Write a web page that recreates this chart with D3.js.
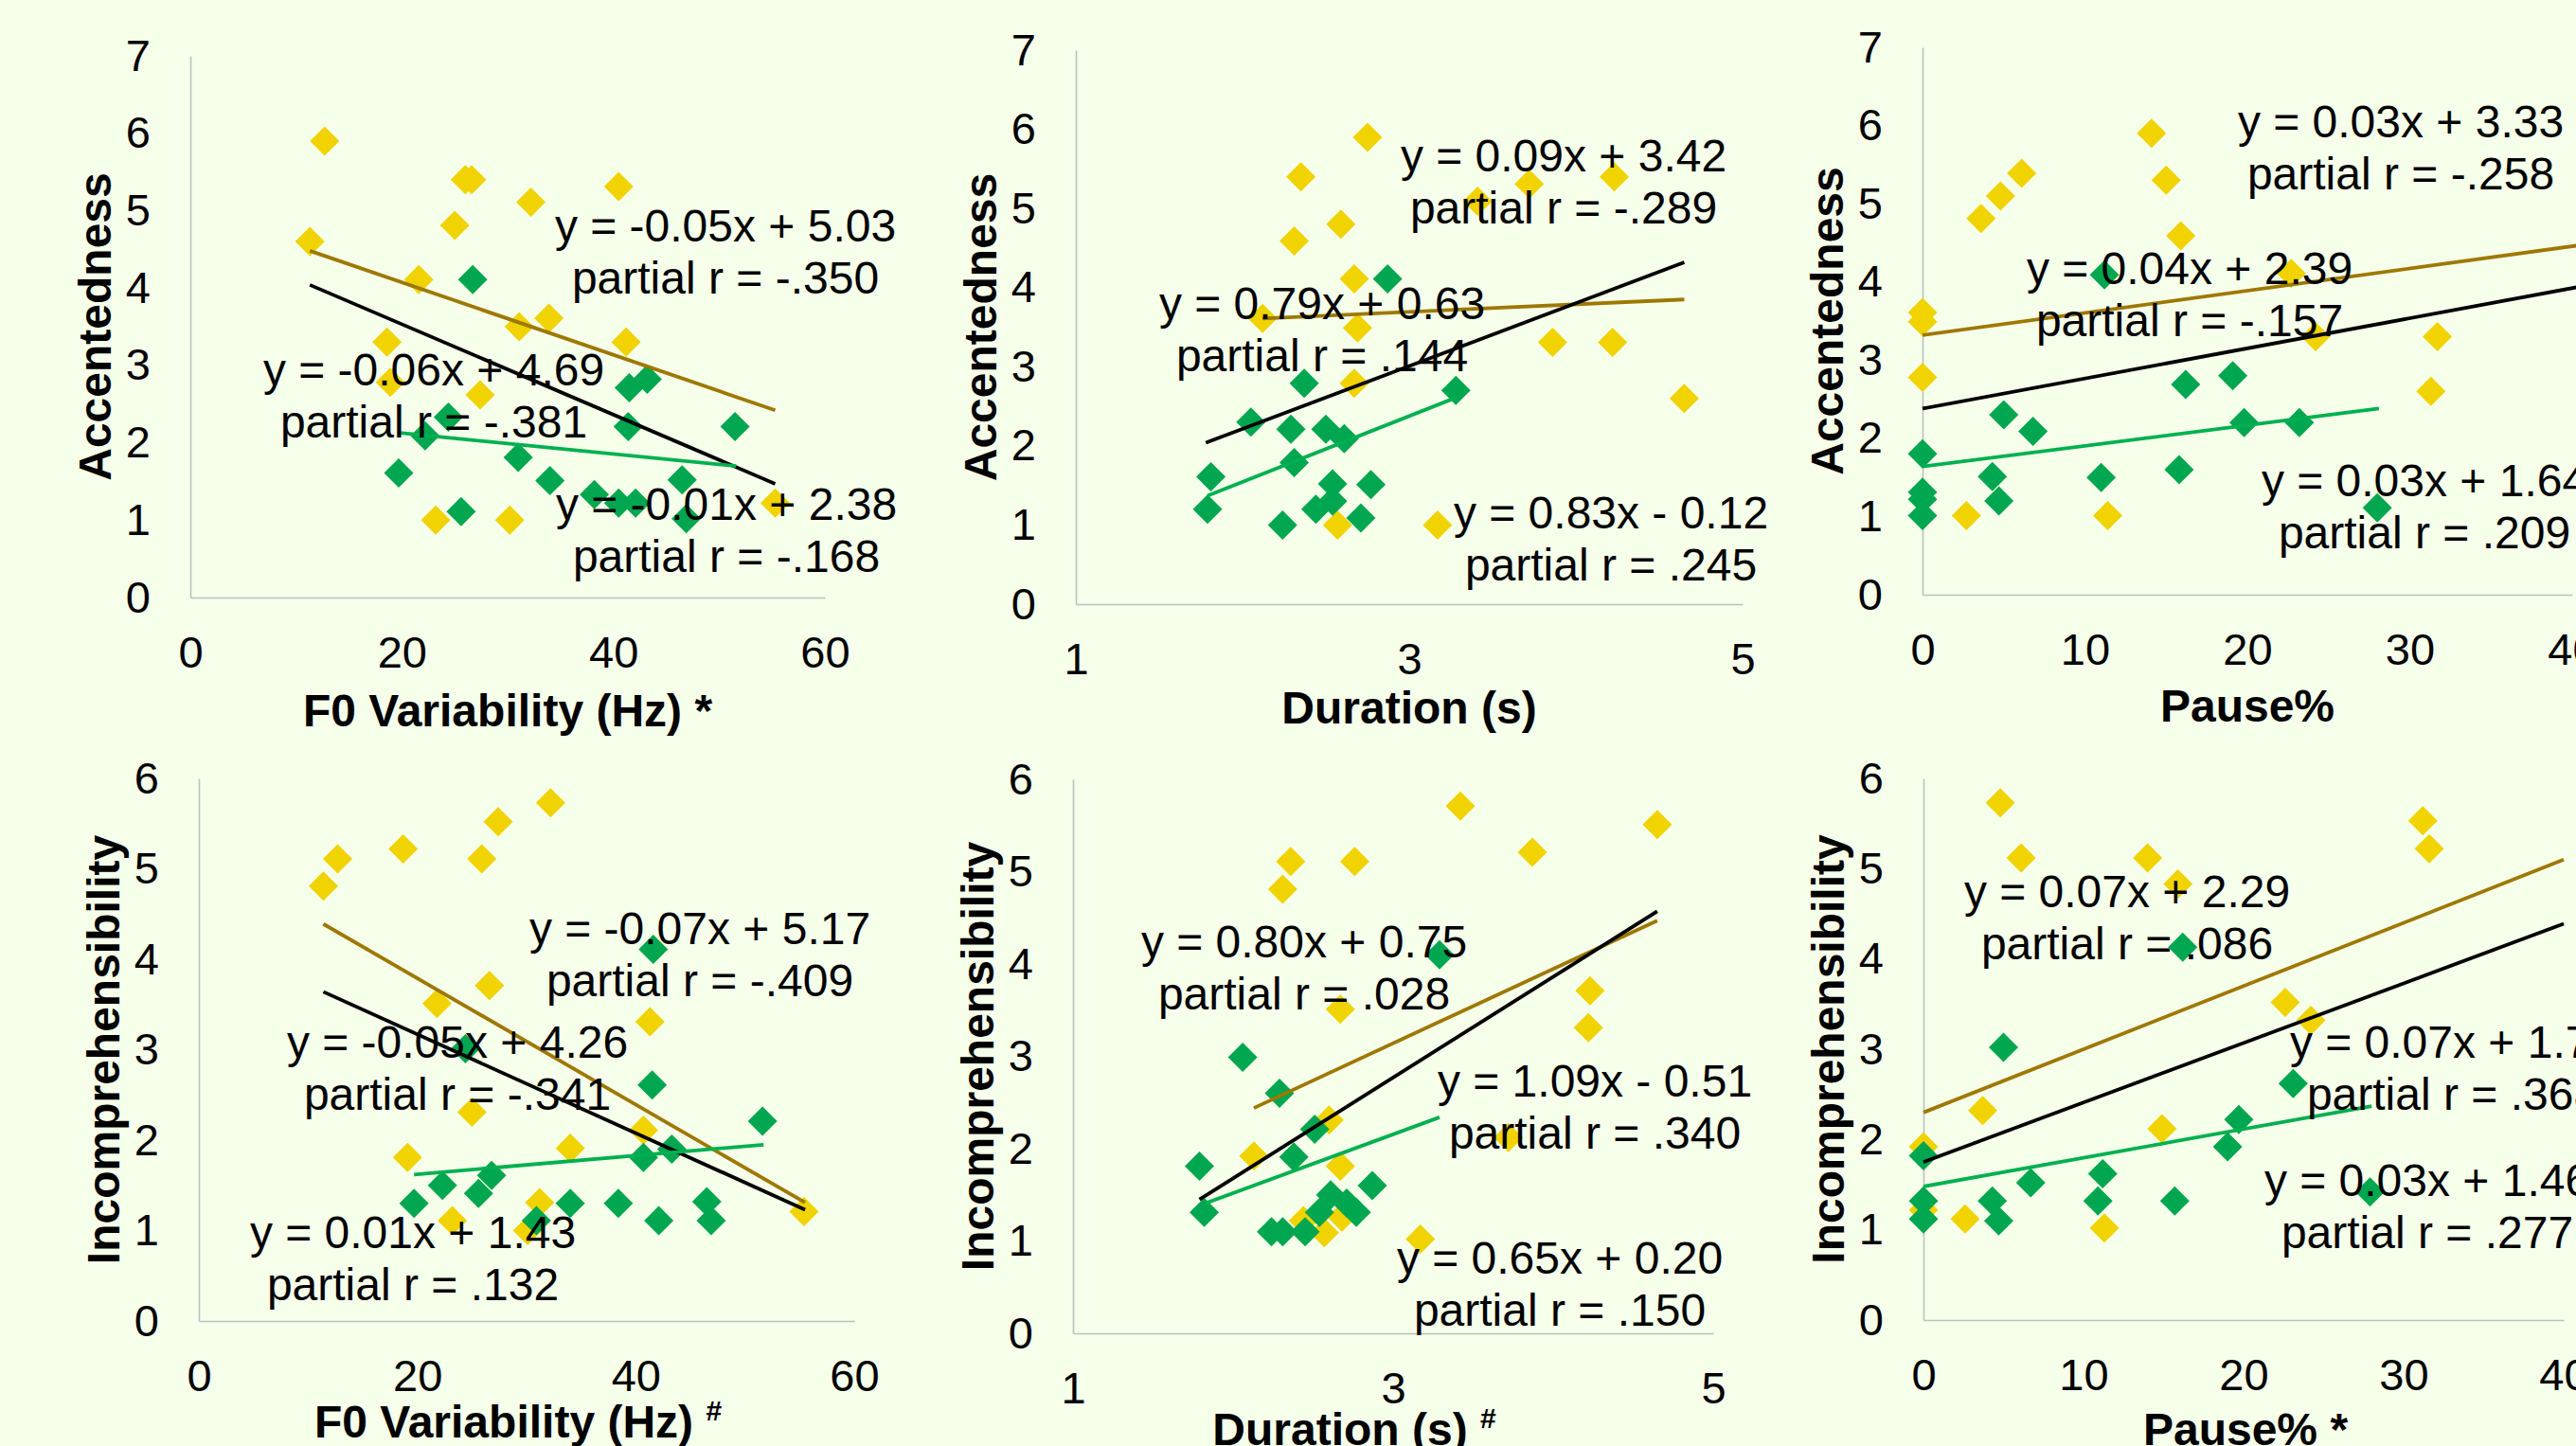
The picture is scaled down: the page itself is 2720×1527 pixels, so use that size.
<!DOCTYPE html>
<html>
<head>
<meta charset="UTF-8">
<title>Accentedness / Incomprehensibility scatter panels</title>
<script src="https://cdn.jsdelivr.net/npm/d3@7"></script>
<style>
	body { margin: 0; background: #F5FFEA; }
	svg text { font-family: "Liberation Sans", Arial, sans-serif; fill: #000; }
</style>
</head>
<body>
<svg id="chart" width="2720" height="1527"></svg>
<script>
// ---- tick labels
var f0Ticks = [0, 20, 40, 60];
var durTicks = [1, 3, 5];
var pauseTicks = [0, 10, 20, 30, 40];
var accTicks = [0, 1, 2, 3, 4, 5, 6, 7];
var incTicks = [0, 1, 2, 3, 4, 5, 6];

// ---- accentedness vs F0 variability
var f0AccYellow = [[12.7,5.90],[26.0,5.40],[26.6,5.40],[40.5,5.31],[32.2,5.11],[25.0,4.81],[11.3,4.60],[21.6,4.11],[33.9,3.61],[31.1,3.50],[18.6,3.30],[41.2,3.30],[18.9,2.78],[27.4,2.62],[23.2,1.00],[30.2,1.00],[55.3,1.22]];
var f0AccGreen = [[26.7,4.11],[41.5,2.71],[43.2,2.82],[24.4,2.33],[22.2,2.09],[41.4,2.21],[51.5,2.21],[31.0,1.81],[19.7,1.61],[34.0,1.51],[46.5,1.52],[38.2,1.33],[40.5,1.22],[42.1,1.22],[25.6,1.11],[46.9,1.02]];
var f0AccTrend = [["yellow",11.3,4.48,55.3,2.42],["all",11.3,4.04,55.3,1.47],["green",19.6,2.13,51.6,1.70]];
var f0AccLabels = [["y = -0.05x + 5.03","partial r = -.350"],["y = -0.06x + 4.69","partial r = -.381"],["y = -0.01x + 2.38","partial r = -.168"]];

// ---- accentedness vs duration
var durAccYellow = [[2.75,5.90],[2.35,5.40],[4.23,5.40],[3.72,5.31],[3.41,5.09],[2.59,4.80],[2.31,4.59],[2.67,4.11],[2.12,3.61],[2.69,3.49],[3.86,3.31],[4.22,3.31],[2.67,2.79],[4.65,2.60],[2.57,1.00],[3.17,1.00]];
var durAccGreen = [[2.87,4.11],[2.37,2.79],[3.28,2.70],[2.05,2.30],[2.29,2.21],[2.50,2.21],[2.61,2.09],[2.31,1.79],[1.81,1.61],[2.54,1.52],[2.77,1.51],[2.54,1.30],[2.44,1.20],[1.79,1.20],[2.71,1.09],[2.24,1.00]];
var durAccTrend = [["yellow",2.12,3.61,4.65,3.85],["all",1.78,2.04,4.65,4.32],["green",1.79,1.37,3.28,2.61]];
var durAccLabels = [["y = 0.09x + 3.42","partial r = -.289"],["y = 0.79x + 0.63","partial r = .144"],["y = 0.83x - 0.12","partial r = .245"]];

// ---- accentedness vs pause%
var pauseAccYellow = [[14.1,5.90],[6.1,5.39],[15.0,5.30],[4.8,5.10],[3.6,4.81],[15.9,4.59],[22.7,4.11],[0,3.61],[0,3.49],[24.2,3.30],[31.7,3.30],[0,2.78],[31.3,2.60],[2.7,1.01],[11.4,1.01]];
var pauseAccGreen = [[11.2,4.09],[19.1,2.80],[16.2,2.69],[5.0,2.30],[6.8,2.09],[19.8,2.20],[23.2,2.20],[0,1.80],[15.8,1.60],[4.3,1.51],[11.0,1.50],[0,1.31],[0,1.22],[4.7,1.20],[0,1.01],[28.0,1.11]];
var pauseAccTrend = [["yellow",0,3.32,40.5,4.47],["all",0,2.38,40.5,3.94],["green",0,1.64,28.1,2.38]];
var pauseAccLabels = [["y = 0.03x + 3.33","partial r = -.258"],["y = 0.04x + 2.39","partial r = -.157"],["y = 0.03x + 1.64","partial r = .209"]];

// ---- incomprehensibility vs F0 variability
var f0IncYellow = [[32.2,5.73],[27.4,5.52],[18.7,5.22],[12.7,5.11],[25.9,5.11],[11.4,4.81],[26.6,3.71],[21.8,3.51],[41.3,3.31],[25.0,2.31],[40.7,2.11],[34.0,1.91],[19.1,1.81],[31.2,1.31],[23.2,1.11],[30.1,1.00],[55.4,1.21]];
var f0IncGreen = [[41.6,4.11],[24.4,3.01],[41.5,2.61],[51.6,2.21],[40.7,1.81],[43.3,1.90],[26.8,1.61],[22.3,1.50],[25.6,1.41],[19.7,1.30],[34.0,1.30],[38.4,1.30],[46.5,1.32],[42.1,1.11],[46.9,1.11],[30.9,1.11]];
var f0IncTrend = [["yellow",11.4,4.39,55.5,1.31],["all",11.4,3.64,55.5,1.23],["green",19.7,1.62,51.7,1.95]];
var f0IncLabels = [["y = -0.07x + 5.17","partial r = -.409"],["y = -0.05x + 4.26","partial r = -.341"],["y = 0.01x + 1.43","partial r = .132"]];

// ---- incomprehensibility vs duration
var durIncYellow = [[3.42,5.71],[4.65,5.51],[3.87,5.21],[2.36,5.11],[2.76,5.11],[2.31,4.81],[4.23,3.71],[4.22,3.31],[2.67,3.51],[2.60,2.31],[3.72,2.12],[2.13,1.92],[2.67,1.81],[2.44,1.22],[2.68,1.26],[2.57,1.09],[3.17,1.02]];
var durIncGreen = [[3.29,4.10],[2.06,2.99],[2.29,2.60],[2.51,2.21],[1.79,1.81],[2.38,1.91],[2.87,1.60],[2.61,1.50],[2.71,1.41],[2.54,1.31],[1.82,1.31],[2.77,1.31],[2.24,1.10],[2.31,1.10],[2.45,1.10]];
var durIncTrend = [["yellow",2.13,2.44,4.65,4.47],["all",1.79,1.45,4.65,4.57],["green",1.83,1.41,3.29,2.34]];
var durIncLabels = [["y = 0.80x + 0.75","partial r = .028"],["y = 1.09x - 0.51","partial r = .340"],["y = 0.65x + 0.20","partial r = .150"]];

// ---- incomprehensibility vs pause%
var pauseIncYellow = [[4.8,5.73],[31.2,5.53],[31.6,5.22],[6.1,5.12],[14.0,5.12],[15.9,4.83],[22.6,3.52],[24.2,3.32],[3.7,2.32],[14.9,2.12],[0,1.92],[0,1.22],[2.6,1.12],[11.3,1.02]];
var pauseIncGreen = [[16.2,4.13],[5.0,3.02],[23.1,2.62],[19.7,2.22],[0,1.82],[19.0,1.92],[11.2,1.62],[6.7,1.52],[0,1.32],[4.3,1.32],[10.9,1.32],[15.7,1.32],[27.9,1.42],[0,1.12],[4.7,1.10]];
var pauseIncTrend = [["yellow",0,2.30,40,5.10],["all",0,1.75,40,4.39],["green",0,1.48,28.0,2.37]];
var pauseIncLabels = [["y = 0.07x + 2.29","partial r = .086"],["y = 0.07x + 1.76","partial r = .368"],["y = 0.03x + 1.46","partial r = .277"]];

// ---- layout (pixel frames, label anchors)
var panels = [
	{ yellow: f0AccYellow, green: f0AccGreen, trend: f0AccTrend, labels: f0AccLabels,
	  xDom: [0, 60], yDom: [0, 7], xTicks: f0Ticks, yTicks: accTicks,
	  xTitle: "F0 Variability (Hz) *", sup: "", yTitle: "Accentedness",
	  left: 201, right: 871, bottom: 631, top: 59, titleX: 536, titleY: 767,
	  labelPos: [[766, 238], [458, 390], [767, 532]] },
	{ yellow: durAccYellow, green: durAccGreen, trend: durAccTrend, labels: durAccLabels,
	  xDom: [1, 5], yDom: [0, 7], xTicks: durTicks, yTicks: accTicks,
	  xTitle: "Duration (s)", sup: "", yTitle: "Accentedness",
	  left: 1136, right: 1840, bottom: 638, top: 53, titleX: 1488, titleY: 764,
	  labelPos: [[1651, 164], [1396, 320], [1701, 541]] },
	{ yellow: pauseAccYellow, green: pauseAccGreen, trend: pauseAccTrend, labels: pauseAccLabels,
	  xDom: [0, 40], yDom: [0, 7], xTicks: pauseTicks, yTicks: accTicks,
	  xTitle: "Pause%", sup: "", yTitle: "Accentedness",
	  left: 2030, right: 2716, bottom: 628, top: 50, titleX: 2373, titleY: 762,
	  labelPos: [[2535, 128], [2312, 283], [2560, 507]] },
	{ yellow: f0IncYellow, green: f0IncGreen, trend: f0IncTrend, labels: f0IncLabels,
	  xDom: [0, 60], yDom: [0, 6], xTicks: f0Ticks, yTicks: incTicks,
	  xTitle: "F0 Variability (Hz) ", sup: "#", yTitle: "Incomprehensibility",
	  left: 210, right: 902, bottom: 1395, top: 822, titleX: 547, titleY: 1518,
	  labelPos: [[739, 980], [483, 1100], [436, 1301]] },
	{ yellow: durIncYellow, green: durIncGreen, trend: durIncTrend, labels: durIncLabels,
	  xDom: [1, 5], yDom: [0, 6], xTicks: durTicks, yTicks: incTicks,
	  xTitle: "Duration (s) ", sup: "#", yTitle: "Incomprehensibility",
	  left: 1133, right: 1809, bottom: 1408, top: 823, titleX: 1430, titleY: 1526,
	  labelPos: [[1377, 994], [1684, 1141], [1647, 1328]] },
	{ yellow: pauseIncYellow, green: pauseIncGreen, trend: pauseIncTrend, labels: pauseIncLabels,
	  xDom: [0, 40], yDom: [0, 6], xTicks: pauseTicks, yTicks: incTicks,
	  xTitle: "Pause% *", sup: "", yTitle: "Incomprehensibility",
	  left: 2031, right: 2707, bottom: 1394, top: 822, titleX: 2371, titleY: 1526,
	  labelPos: [[2246, 941], [2590, 1100], [2563, 1246]] }
];

var lineColor = { yellow: "#9E7800", all: "#000000", green: "#00B050" };
var markColor = { yellow: "#F0D300", green: "#00A650" };
var diamond = "M0,-15.5L15.5,0L0,15.5L-15.5,0Z";

var svg = d3.select("#chart");
svg.append("rect").attr("width", 2720).attr("height", 1527).attr("fill", "#F5FFEA");

panels.forEach(function (p) {
	var x = d3.scaleLinear().domain(p.xDom).range([p.left, p.right]);
	var y = d3.scaleLinear().domain(p.yDom).range([p.bottom, p.top]);
	var g = svg.append("g");

	// axes: light grey lines, bare numbers
	var gx = g.append("g").attr("transform", "translate(0," + p.bottom + ")")
		.call(d3.axisBottom(x).tickValues(p.xTicks).tickFormat(d3.format("d"))
			.tickSizeInner(0).tickSizeOuter(0).tickPadding(41));
	var gy = g.append("g").attr("transform", "translate(" + p.left + ",0)")
		.call(d3.axisLeft(y).tickValues(p.yTicks).tickFormat(d3.format("d"))
			.tickSizeInner(0).tickSizeOuter(0).tickPadding(42));
	[gx, gy].forEach(function (a) {
		a.select(".domain").attr("stroke", "#BFBFBF").attr("stroke-width", 1.6);
		a.selectAll("text").attr("font-size", 47).attr("fill", "#000")
			.style("font-family", "'Liberation Sans', Arial, sans-serif");
	});

	// markers
	["yellow", "green"].forEach(function (s) {
		g.selectAll("path.m-" + s).data(p[s]).enter().append("path")
			.attr("class", "m-" + s)
			.attr("d", diamond)
			.attr("transform", function (d) { return "translate(" + x(d[0]) + "," + y(d[1]) + ")"; })
			.attr("fill", markColor[s]);
	});

	// trend lines
	g.selectAll("line.trend").data(p.trend).enter().append("line")
		.attr("class", "trend")
		.attr("x1", function (d) { return x(d[1]); })
		.attr("y1", function (d) { return y(d[2]); })
		.attr("x2", function (d) { return x(d[3]); })
		.attr("y2", function (d) { return y(d[4]); })
		.attr("stroke", function (d) { return lineColor[d[0]]; })
		.attr("stroke-width", 3.8);

	// equation labels
	p.labels.forEach(function (lab, i) {
		var pos = p.labelPos[i];
		lab.forEach(function (t, j) {
			g.append("text")
				.attr("x", pos[0]).attr("y", pos[1] + j * 54.5)
				.attr("dy", "0.36em")
				.attr("text-anchor", "middle")
				.attr("font-size", 48)
				.text(t);
		});
	});

	// axis titles
	var xt = g.append("text")
		.attr("x", p.titleX).attr("y", p.titleY)
		.attr("text-anchor", "middle")
		.attr("font-size", 48).attr("font-weight", "bold")
		.text(p.xTitle);
	if (p.sup) {
		xt.append("tspan").attr("font-size", 30).attr("dy", -18).text(p.sup);
	}
	g.append("text")
		.attr("transform", "translate(" + (p.left - 101) + "," + ((p.top + p.bottom) / 2) + ") rotate(-90)")
		.attr("dy", "0.36em")
		.attr("text-anchor", "middle")
		.attr("font-size", 48).attr("font-weight", "bold")
		.text(p.yTitle);
});
</script>
</body>
</html>
